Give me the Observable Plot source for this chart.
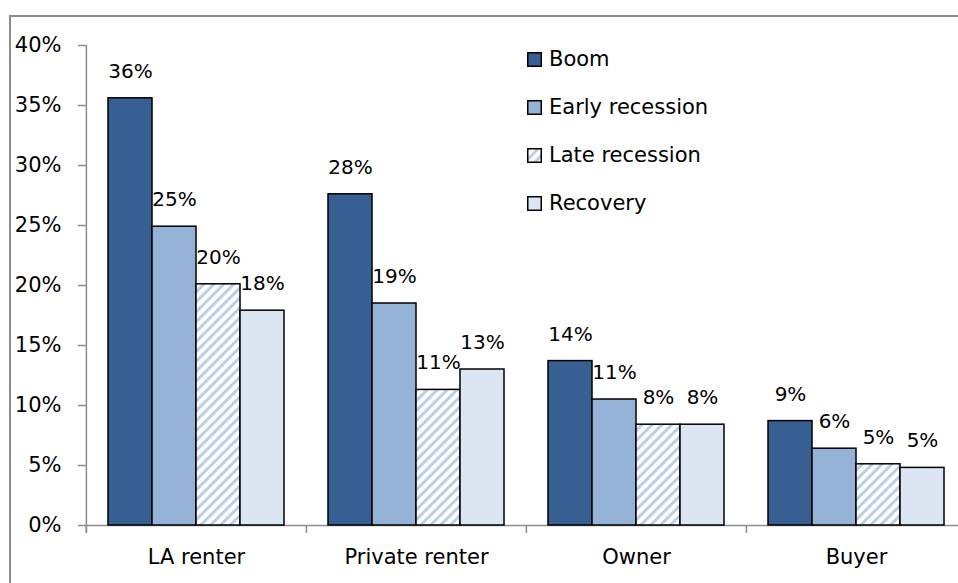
<!DOCTYPE html>
<html><head><meta charset="utf-8">
<script src="https://cdn.jsdelivr.net/npm/d3@7"></script>
<script src="https://cdn.jsdelivr.net/npm/@observablehq/plot@0.6"></script>
<style>
html,body{margin:0;padding:0;background:#fff;overflow:hidden;}
#wrap{position:relative;width:958px;height:583px;font-family:"DejaVu Sans", sans-serif;color:#000;}
#border{position:absolute;left:9px;top:15px;width:960px;height:580px;border-top:2px solid #8c8c8c;border-left:2px solid #8c8c8c;box-sizing:border-box;}
#chart{position:absolute;left:0;top:0;}
#legend{position:absolute;left:527px;top:35px;}
.item{display:flex;align-items:center;height:48px;font-size:21px;white-space:nowrap;}
.item svg{margin-right:7px;}
</style></head>
<body>
<svg width="0" height="0" style="position:absolute">
  <defs>
    <pattern id="hatch" patternUnits="userSpaceOnUse" width="7" height="7" patternTransform="rotate(45)">
      <rect width="7" height="7" fill="#ffffff"></rect>
      <rect x="0" y="0" width="3" height="7" fill="#bccfe8"></rect>
    </pattern>
  </defs>
</svg>
<div id="wrap">
  <div id="border"></div>
  <div id="chart"></div>
  <div id="legend"></div>
</div>
<script>
const categories = ["LA renter", "Private renter", "Owner", "Buyer"];
const periods = ["Boom", "Early recession", "Late recession", "Recovery"];
const boom = [35.6, 27.6, 13.7, 8.7];
const earlyRecession = [24.9, 18.5, 10.5, 6.4];
const lateRecession = [20.1, 11.3, 8.4, 5.1];
const recovery = [17.9, 13.0, 8.4, 4.8];
const yTicks = [0, 5, 10, 15, 20, 25, 30, 35, 40];
const periodFills = ["#375f91", "#95b3d7", "url(#hatch)", "#dce6f2"];

const series = [boom, earlyRecession, lateRecession, recovery];
const data = [];
categories.forEach((c, i) => periods.forEach((p, j) => data.push({category: c, period: p, value: series[j][i]})));

const W = 958, H = 583, mL = 85, mR = -8, mT = 45, mB = 58;
const groupW = (W - mL - mR) / categories.length;
const gray = "#8c8c8c";
const font = "'DejaVu Sans', sans-serif";

const chart = Plot.plot({
  width: W, height: H,
  marginTop: mT, marginBottom: mB, marginLeft: mL, marginRight: mR,
  style: {fontFamily: font, fontSize: "21px", color: "#000", background: "transparent", overflow: "visible"},
  fx: {domain: categories, padding: 0, label: null, axis: null},
  x: {domain: periods, paddingInner: 0, paddingOuter: 0.5, axis: null},
  y: {domain: [0, 40], label: null, axis: null},
  color: {domain: periods, range: periodFills},
  marks: [
    Plot.ruleY([0], {stroke: gray, strokeWidth: 1.5}),
    Plot.barY(data, {fx: "category", x: "period", y: "value", fill: "period", stroke: "#000", strokeWidth: 1.5}),
    Plot.text(data, {fx: "category", x: "period", y: "value", text: d => Math.round(d.value) + "%", dy: -27, fontSize: 20}),
    Plot.axisY({ticks: yTicks, tickFormat: d => d + "%", tickSize: 8, tickPadding: 17, stroke: gray, strokeWidth: 1.5, fontSize: 21, label: null}),
    Plot.ruleX([categories[0]], {fx: d => d, x: null, y1: 40, y2: 0, insetBottom: -8, dx: -groupW / 2, stroke: gray, strokeWidth: 1.5}),
    Plot.ruleX(categories, {fx: d => d, x: null, y1: 0, y2: 0, insetBottom: -8, dx: -groupW / 2, stroke: gray, strokeWidth: 1.5}),
    Plot.axisFx({anchor: "bottom", tickSize: 0, tickPadding: 24, fontSize: 21, label: null})
  ]
});
document.getElementById("chart").appendChild(chart);

const legend = d3.select("#legend");
periods.forEach((p, j) => {
  const item = legend.append("div").attr("class", "item");
  const sw = item.append("svg").attr("width", 15).attr("height", 15);
  sw.append("rect").attr("x", 0.75).attr("y", 0.75).attr("width", 13.5).attr("height", 13.5)
    .attr("fill", periodFills[j]).attr("stroke", "#000").attr("stroke-width", 1.5);
  item.append("span").text(p);
});
</script>
</body></html>
